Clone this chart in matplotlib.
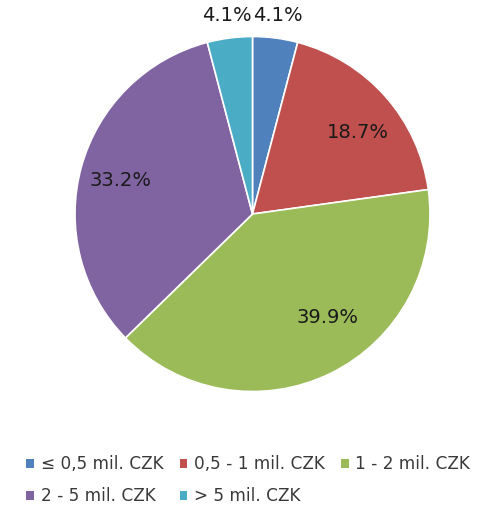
import matplotlib
matplotlib.use("Agg")
import matplotlib.pyplot as plt
from matplotlib.patches import Patch
import numpy as np

categories = ["≤ 0,5 mil. CZK", "0,5 - 1 mil. CZK", "1 - 2 mil. CZK", "2 - 5 mil. CZK", "> 5 mil. CZK"]
values = [4.1, 18.7, 39.9, 33.2, 4.1]
colors = ["#4F81BD", "#C0504D", "#9BBB59", "#8064A2", "#4BACC6"]
label_radius = [1.13, 0.75, 0.72, 0.765, 1.13]
label_angle_shift = [0, -3.6, 9.6, 1.4, 0]

plt.rcParams['font.family'] = ['DejaVu Sans']
W, H = 488, 507
fig = plt.figure(figsize=(W / 100, H / 100), dpi=100)
cx, cy, r = 252.5, 214, 177.5
ax = fig.add_axes([(cx - r) / W, (H - cy - r) / H, 2 * r / W, 2 * r / H])
wedges, _ = ax.pie(values, colors=colors, startangle=90, counterclock=False,
                   radius=1, wedgeprops=dict(edgecolor="white", linewidth=1.2))
ax.set_xlim(-1, 1)
ax.set_ylim(-1, 1)
ax.set_aspect("equal")
ax.axis("off")

for w, v, lr, sh in zip(wedges, values, label_radius, label_angle_shift):
    ang = np.deg2rad((w.theta1 + w.theta2) / 2 + sh)
    ax.text(lr * np.cos(ang), lr * np.sin(ang), f"{v:.1f}%", ha="center", va="center",
            fontsize=14, color="#1a1a1a", clip_on=False)

handles = [Patch(facecolor=c, edgecolor="none") for c in colors]
order = [0, 3, 1, 4, 2]
leg = fig.legend([handles[i] for i in order], [categories[i] for i in order],
                 ncol=3, loc="upper left", bbox_to_anchor=(18 / W, 1 - 447 / H),
                 frameon=False, fontsize=12.2, handlelength=0.45, handleheight=0.45,
                 handletextpad=0.4, columnspacing=0.95, labelspacing=0.82,
                 borderpad=0, labelcolor="#3a3a3a")

fig.savefig("out.png", dpi=100)
